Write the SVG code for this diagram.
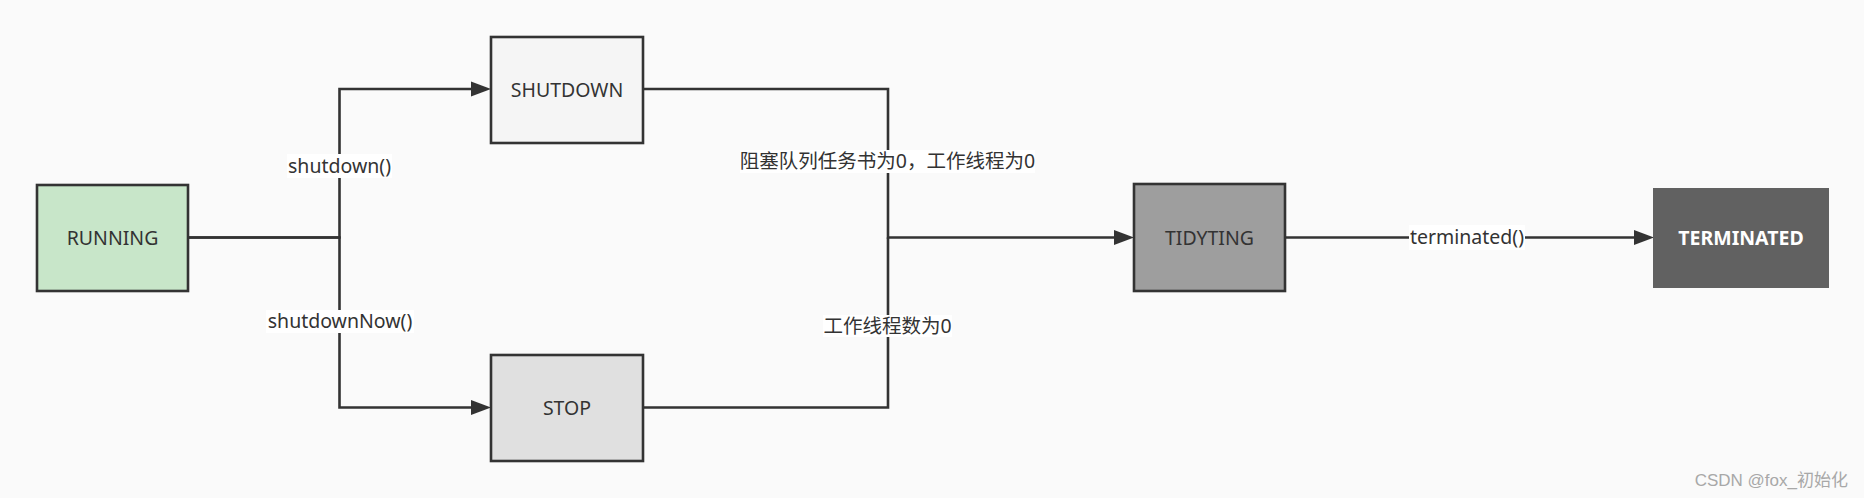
<svg xmlns="http://www.w3.org/2000/svg" width="1864" height="498" viewBox="0 0 1864 498">
<style>
.node{stroke:#333;stroke-width:2.6}
.t{font-family:"Noto Sans","Noto Sans CJK SC",sans-serif;font-size:19.5px;fill:#333;text-anchor:middle}
.conn{fill:none;stroke:#333;stroke-width:2.6}
.lbl{fill:#fff}
</style>
<defs>
<marker id="arr" markerUnits="userSpaceOnUse" markerWidth="21" markerHeight="16" refX="0" refY="7.5" orient="auto" overflow="visible">
<path d="M0,0 L20,7.5 L0,15 z" fill="#333"/>
</marker>
</defs>
<rect x="0" y="0" width="1864" height="498" fill="#fafafa"/>
<g id="connectors">
<path class="conn" d="M188,237.5 H339.5 V89 H471" marker-end="url(#arr)"/>
<path class="conn" d="M188,237.5 H339.5 V407.5 H471" marker-end="url(#arr)"/>
<path class="conn" d="M643,89 H888 V237.5 H1114" marker-end="url(#arr)"/>
<path class="conn" d="M643,407.5 H888 V237.5"/>
<path class="conn" d="M1285,237.5 H1634" marker-end="url(#arr)"/>
<g id="labels">
<rect class="lbl" x="287" y="154" width="105" height="24"/>
<text class="t" x="339.5" y="173">shutdown()</text>
<rect class="lbl" x="266" y="310" width="148" height="23"/>
<text class="t" x="340" y="328">shutdownNow()</text>
<rect class="lbl" x="740" y="150" width="295" height="23"/>
<text class="t" x="887.5" y="168">阻塞队列任务书为0，工作线程为0</text>
<rect class="lbl" x="823" y="315" width="129" height="22"/>
<text class="t" x="887.5" y="333">工作线程数为0</text>
<rect class="lbl" x="1409" y="225" width="116" height="25"/>
<text class="t" x="1467" y="244">terminated()</text>
</g>
</g>
<g id="RUNNING">
<rect class="node" x="37" y="185" width="151" height="106" fill="#c8e6c9"/>
<text class="t" x="112.5" y="245">RUNNING</text>
</g>
<g id="SHUTDOWN">
<rect class="node" x="491" y="37" width="152" height="106" fill="#f5f5f5"/>
<text class="t" x="567" y="97">SHUTDOWN</text>
</g>
<g id="STOP">
<rect class="node" x="491" y="355" width="152" height="106" fill="#e0e0e0"/>
<text class="t" x="567" y="415">STOP</text>
</g>
<g id="TIDYTING">
<rect class="node" x="1134" y="184" width="151" height="107" fill="#9e9e9e"/>
<text class="t" x="1209.5" y="245">TIDYTING</text>
</g>
<g id="TERMINATED">
<rect x="1653" y="188" width="176" height="100" fill="#616161"/>
<text class="t" x="1741" y="245" style="fill:#fff;font-weight:bold">TERMINATED</text>
</g>
<text x="1848" y="486" style="font-family:'Liberation Sans','Noto Sans CJK SC',sans-serif;font-size:17px;fill:#a8a8a8;text-anchor:end">CSDN @fox_初始化</text>
</svg>
